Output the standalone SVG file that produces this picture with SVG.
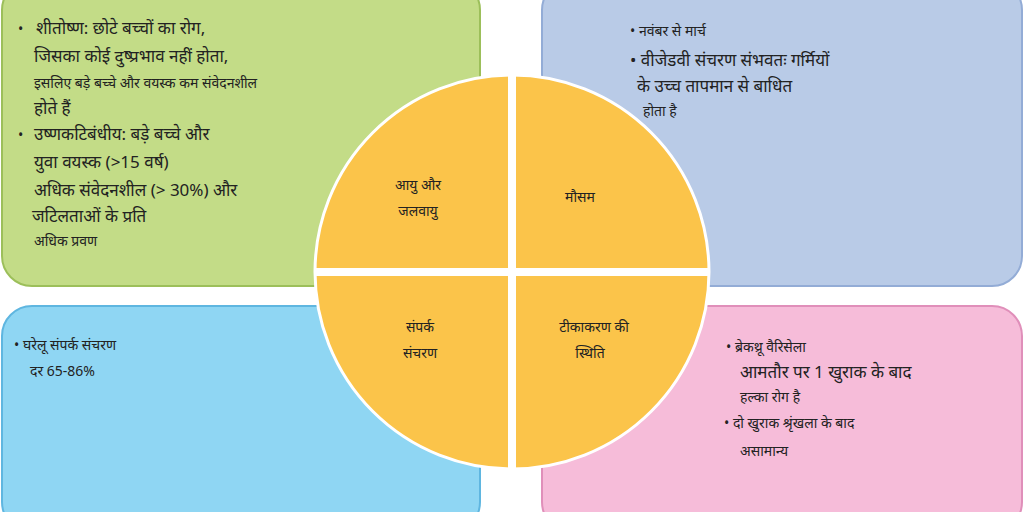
<svg xmlns="http://www.w3.org/2000/svg" width="1024" height="512" viewBox="0 0 1024 512">
<style>
.t{font-family:"Noto Sans","Liberation Sans",sans-serif;fill:#222;}
.s{font-size:14px}.m{font-size:17px}.c{font-size:14px;text-anchor:middle}
</style>
<rect width="1024" height="512" fill="#fff"/>
<g id="n1"><rect x="2" y="-20" width="478" height="306" rx="30" fill="#c3dc87" stroke="#9cbf5a" stroke-width="2"/>
<text class="t s" x="18" y="34" fill="#888">•</text>
<text class="t m" x="36" y="34">शीतोष्ण: छोटे बच्चों का रोग,</text>
<text class="t m" x="34" y="62">जिसका कोई दुष्प्रभाव नहीं होता,</text>
<text class="t s" x="34" y="88">इसलिए बड़े बच्चे और वयस्क कम संवेदनशील</text>
<text class="t m" x="34" y="114">होते हैं</text>
<text class="t s" x="18" y="140">•</text><text class="t m" x="34" y="140">उष्णकटिबंधीय: बड़े बच्चे और</text>
<text class="t m" x="34" y="168">युवा वयस्क (&gt;15 वर्ष)</text>
<text class="t m" x="34" y="196">अधिक संवेदनशील (&gt; 30%) और</text>
<text class="t m" x="32" y="222">जटिलताओं के प्रति</text>
<text class="t s" x="34" y="246">अधिक प्रवण</text></g>
<g id="n2"><rect x="542" y="-20" width="480" height="306" rx="30" fill="#b9cbe7" stroke="#93acd6" stroke-width="2"/>
<text class="t s" x="630" y="36">• नवंबर से मार्च</text>
<text class="t m" x="630" y="66">• वीजेडवी संचरण संभवतः गर्मियों</text>
<text class="t m" x="637" y="92">के उच्च तापमान से बाधित</text>
<text class="t s" x="643" y="116">होता है</text></g>
<g id="n3"><rect x="2" y="306" width="478" height="226" rx="30" fill="#8fd6f3" stroke="#5fb6e0" stroke-width="2"/>
<text class="t s" x="14" y="350">• घरेलू संपर्क संचरण</text>
<text class="t s" x="30" y="376">दर 65-86%</text></g>
<g id="n4"><rect x="542" y="306" width="480" height="226" rx="30" fill="#f6bcd9" stroke="#e08fba" stroke-width="2"/>
<text class="t s" x="726" y="352">•  ब्रेकथ्रू वैरिसेला</text>
<text class="t m" x="740" y="378">आमतौर पर 1 खुराक के बाद</text>
<text class="t s" x="740" y="402">हल्का रोग है</text>
<text class="t s" x="724" y="428">• दो खुराक श्रृंखला के बाद</text>
<text class="t s" x="740" y="456">असामान्य</text></g>
<g id="circle">
<circle cx="512" cy="272" r="197" fill="#fbc44a" stroke="#fff" stroke-width="3"/>
<rect x="508" y="74" width="8" height="396" fill="#fff"/>
<rect x="314" y="268" width="396" height="8" fill="#fff"/>
<text class="t c" x="418" y="190">आयु और</text>
<text class="t c" x="418" y="216">जलवायु</text>
<text class="t c" x="580" y="202">मौसम</text>
<text class="t c" x="420" y="332">संपर्क</text>
<text class="t c" x="420" y="358">संचरण</text>
<text class="t c" x="594" y="332">टीकाकरण की</text>
<text class="t c" x="590" y="358">स्थिति</text>
</g>
</svg>
